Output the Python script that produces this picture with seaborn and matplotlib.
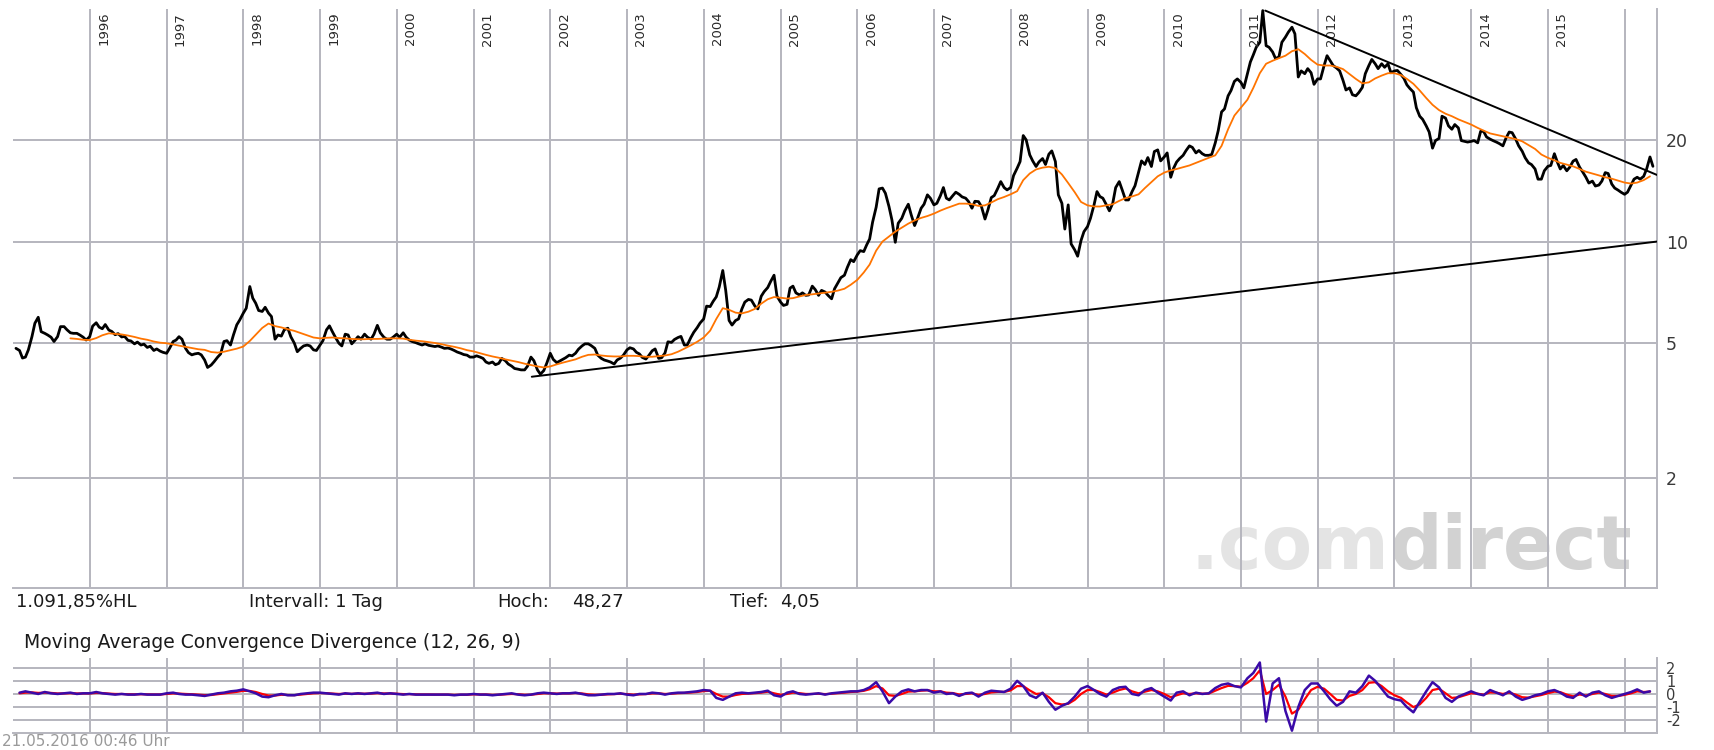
import numpy as np
import pandas as pd
import matplotlib
matplotlib.use('Agg')
import matplotlib.pyplot as plt
import matplotlib.dates as mdates
from matplotlib.ticker import NullLocator
import seaborn as sns

OUTPUT_FILE = 'out.png'

# closing prices, 1st and 15th of each month
p1995 = [4.83, 4.76, 4.52, 4.55, 4.78, 5.23, 5.73, 5.97, 5.41, 5.35, 5.29, 5.21,
         5.06, 5.23, 5.60, 5.60, 5.48, 5.37, 5.35, 5.35, 5.29, 5.21, 5.11]
p1996 = [5.23, 5.62, 5.75, 5.58, 5.52, 5.68, 5.47, 5.42, 5.30, 5.34, 5.22, 5.24,
         5.10, 5.08, 4.98, 5.04, 4.94, 4.97, 4.86, 4.90, 4.76, 4.81, 4.74, 4.70]
p1997 = [4.67, 4.83, 5.06, 5.11, 5.23, 5.14, 4.83, 4.69, 4.62, 4.65, 4.67, 4.62,
         4.46, 4.24, 4.31, 4.41, 4.55, 4.65, 5.06, 5.09, 4.94, 5.29, 5.67, 5.86]
p1998 = [6.14, 6.35, 7.36, 6.80, 6.57, 6.25, 6.21, 6.39, 6.14, 6.00, 5.14, 5.29,
         5.25, 5.48, 5.54, 5.23, 5.00, 4.72, 4.83, 4.91, 4.94, 4.91, 4.78, 4.76]
p1999 = [4.94, 5.09, 5.48, 5.63, 5.41, 5.21, 5.00, 4.91, 5.32, 5.29, 4.98, 5.09,
         5.23, 5.14, 5.32, 5.21, 5.14, 5.32, 5.65, 5.37, 5.21, 5.14, 5.14, 5.21]
p2000 = [5.32, 5.21, 5.37, 5.21, 5.11, 5.06, 5.02, 4.98, 4.94, 4.98, 4.93, 4.91,
         4.89, 4.91, 4.87, 4.83, 4.84, 4.81, 4.76, 4.71, 4.67, 4.63, 4.61, 4.55]
p2001 = [4.55, 4.59, 4.55, 4.51, 4.40, 4.36, 4.40, 4.32, 4.36, 4.51, 4.44, 4.34,
         4.28, 4.21, 4.19, 4.17, 4.17, 4.28, 4.55, 4.44, 4.17, 4.05, 4.15, 4.36]
p2002 = [4.67, 4.48, 4.38, 4.43, 4.48, 4.53, 4.61, 4.59, 4.67, 4.80, 4.91, 4.98,
         4.98, 4.92, 4.83, 4.61, 4.51, 4.46, 4.43, 4.40, 4.34, 4.46, 4.52, 4.61]
p2003 = [4.78, 4.85, 4.81, 4.70, 4.65, 4.54, 4.49, 4.60, 4.75, 4.81, 4.51, 4.53,
         4.68, 5.05, 5.03, 5.13, 5.20, 5.24, 4.94, 4.94, 5.20, 5.39, 5.56, 5.74]
p2004 = [5.90, 6.44, 6.42, 6.65, 6.86, 7.33, 8.21, 7.17, 5.84, 5.66, 5.84, 5.90,
         6.32, 6.62, 6.74, 6.71, 6.44, 6.32, 6.89, 7.11, 7.31, 7.62, 7.95, 6.89]
p2005 = [6.62, 6.47, 6.52, 7.28, 7.38, 7.05, 6.95, 7.05, 6.93, 6.95, 7.38, 7.21,
         6.93, 7.17, 7.09, 6.93, 6.77, 7.25, 7.55, 7.82, 7.95, 8.39, 8.84, 8.72]
p2006 = [9.13, 9.40, 9.34, 9.78, 10.18, 11.41, 12.64, 14.32, 14.40, 13.90, 12.70, 11.59,
         9.95, 11.33, 11.72, 12.33, 12.90, 11.99, 11.15, 11.72, 12.55, 12.90, 13.75, 13.44]
p2007 = [12.84, 12.98, 13.68, 14.45, 13.44, 13.28, 13.68, 14.00, 13.80, 13.56, 13.44, 13.13,
         12.55, 13.16, 13.13, 12.70, 11.66, 12.41, 13.50, 13.68, 14.38, 15.05, 14.45, 14.22]
p2008 = [14.45, 15.68, 16.49, 17.25, 20.60, 20.00, 18.06, 17.33, 16.68, 17.21, 17.61, 16.91,
         18.14, 18.55, 17.25, 13.75, 12.98, 10.89, 12.84, 9.84, 9.45, 9.05, 10.07, 10.70]
p2009 = [11.08, 11.72, 12.84, 14.06, 13.59, 13.44, 12.84, 12.33, 12.98, 14.45, 15.05, 14.22,
         13.28, 13.28, 14.06, 14.63, 16.08, 17.33, 16.91, 17.73, 16.68, 18.47, 18.68, 17.33]
p2010 = [17.8, 18.3, 15.5, 16.5, 17.2, 17.6, 18.0, 18.6, 19.2, 19.0, 18.3, 18.6,
         18.2, 18.0, 18.0, 18.1, 19.6, 21.3, 24.2, 24.7, 27.0, 28.0, 29.8, 30.3]
p2011 = [29.6, 28.5, 31.4, 34.0, 35.7, 37.6, 38.9, 48.27, 38.0, 37.6, 36.4, 34.8,
         35.2, 38.9, 40.3, 41.7, 43.1, 41.2, 30.7, 32.0, 31.4, 32.5, 31.6, 29.2]
p2012 = [30.3, 30.3, 33.2, 35.5, 34.3, 33.2, 32.6, 32.0, 30.0, 28.1, 28.5, 27.2,
         27.0, 27.6, 28.6, 31.4, 33.2, 34.6, 33.6, 32.5, 33.6, 32.8, 33.6, 31.6]
p2013 = [32.0, 32.1, 31.2, 30.4, 29.1, 28.4, 27.7, 24.9, 23.5, 23.0, 22.0, 21.1,
         18.9, 19.9, 20.2, 23.5, 23.2, 22.0, 21.5, 22.2, 21.7, 19.9, 19.8, 19.7]
p2014 = [19.8, 19.9, 19.6, 21.2, 21.2, 20.4, 20.1, 19.9, 19.7, 19.5, 19.2, 20.2,
         21.1, 21.0, 20.1, 19.2, 18.5, 17.7, 17.1, 16.9, 16.4, 15.3, 15.3, 16.2]
p2015 = [16.7, 16.8, 18.2, 17.2, 16.4, 16.8, 16.2, 16.6, 17.3, 17.5, 16.6, 16.1,
         15.5, 14.9, 15.1, 14.6, 14.7, 15.1, 16.0, 15.9, 14.8, 14.4, 14.2, 14.0]
p2016 = [13.8, 14.0, 14.7, 15.3, 15.5, 15.3, 15.6, 16.4, 17.8, 16.7]

# orange moving average, monthly from Oct 1995
ma1995 = [5.17, 5.15, 5.12]
ma1996 = [5.11, 5.18, 5.28, 5.35, 5.33, 5.31, 5.27, 5.22, 5.16, 5.12, 5.06, 5.02]
ma1997 = [5.00, 4.96, 4.92, 4.88, 4.84, 4.80, 4.78, 4.71, 4.69, 4.72, 4.77, 4.82]
ma1998 = [4.89, 5.08, 5.30, 5.55, 5.72, 5.62, 5.57, 5.50, 5.44, 5.36, 5.28, 5.20]
ma1999 = [5.17, 5.19, 5.20, 5.18, 5.17, 5.15, 5.14, 5.14, 5.15, 5.15, 5.16, 5.17]
ma2000 = [5.17, 5.16, 5.12, 5.09, 5.07, 5.04, 5.01, 4.97, 4.92, 4.88, 4.83, 4.77]
ma2001 = [4.73, 4.67, 4.62, 4.57, 4.53, 4.48, 4.44, 4.40, 4.35, 4.31, 4.27, 4.24]
ma2002 = [4.27, 4.33, 4.38, 4.43, 4.48, 4.56, 4.62, 4.63, 4.60, 4.58, 4.57, 4.57]
ma2003 = [4.59, 4.59, 4.58, 4.56, 4.56, 4.58, 4.60, 4.64, 4.72, 4.82, 4.93, 5.05]
ma2004 = [5.20, 5.45, 5.90, 6.35, 6.28, 6.16, 6.13, 6.20, 6.32, 6.55, 6.75, 6.85]
ma2005 = [6.82, 6.78, 6.80, 6.88, 6.95, 6.98, 7.02, 7.06, 7.10, 7.16, 7.25, 7.45]
ma2006 = [7.70, 8.10, 8.55, 9.40, 10.00, 10.35, 10.70, 11.00, 11.30, 11.55, 11.75, 11.90]
ma2007 = [12.10, 12.35, 12.55, 12.75, 12.95, 12.95, 12.90, 12.75, 12.80, 13.05, 13.35, 13.55]
ma2008 = [13.80, 14.10, 15.20, 15.90, 16.35, 16.55, 16.65, 16.50, 15.80, 14.90, 14.00, 13.10]
ma2009 = [12.80, 12.70, 12.70, 12.80, 12.90, 13.20, 13.45, 13.60, 13.80, 14.40, 15.00, 15.60]
ma2010 = [16.00, 16.25, 16.40, 16.60, 16.80, 17.10, 17.40, 17.70, 18.00, 19.20, 21.50, 23.60]
ma2011 = [24.90, 26.30, 28.50, 31.50, 33.60, 34.30, 34.90, 35.50, 36.60, 37.10, 35.90, 34.50]
ma2012 = [33.40, 33.20, 33.20, 32.90, 32.40, 31.30, 30.30, 29.40, 29.60, 30.40, 31.00, 31.50]
ma2013 = [31.50, 31.10, 30.30, 29.30, 28.00, 26.60, 25.40, 24.50, 23.90, 23.50, 23.00, 22.60]
ma2014 = [22.20, 21.70, 21.30, 20.90, 20.70, 20.50, 20.30, 20.10, 19.80, 19.30, 18.80, 18.10]
ma2015 = [17.70, 17.40, 17.10, 16.90, 16.70, 16.40, 16.10, 15.90, 15.70, 15.50, 15.35, 15.15]
ma2016 = [14.95, 14.85, 14.95, 15.20, 15.60]

# MACD (12, 26, 9), monthly from Feb 1995
macd1995 = [0.1, 0.2, 0.1, 0.0, 0.15, 0.05, 0.0, 0.05, 0.1, 0.0, 0.05]
macd1996 = [0.05, 0.15, 0.05, 0.0, -0.05, 0.0, -0.05, -0.05, 0.0, -0.05, -0.05, -0.05]
macd1997 = [0.05, 0.1, 0.0, -0.05, -0.05, -0.1, -0.15, -0.05, 0.05, 0.1, 0.2, 0.25]
macd1998 = [0.35, 0.2, 0.05, -0.2, -0.25, -0.1, 0.0, -0.1, -0.1, 0.0, 0.05, 0.1]
macd1999 = [0.1, 0.05, 0.0, -0.05, 0.05, 0.0, 0.05, 0.0, 0.05, 0.1, 0.0, 0.05]
macd2000 = [0.0, -0.05, 0.0, -0.05, -0.05, -0.05, -0.05, -0.05, -0.05, -0.1, -0.05, -0.05]
macd2001 = [0.0, -0.05, -0.05, -0.1, -0.05, 0.0, 0.05, -0.05, -0.1, -0.05, 0.05, 0.1]
macd2002 = [0.05, 0.0, 0.05, 0.05, 0.1, 0.0, -0.1, -0.1, -0.05, 0.0, 0.0, 0.05]
macd2003 = [-0.05, -0.1, 0.0, 0.0, 0.1, 0.05, -0.05, 0.05, 0.1, 0.1, 0.15, 0.2]
macd2004 = [0.3, 0.25, -0.3, -0.45, -0.2, 0.05, 0.1, 0.05, 0.1, 0.15, 0.25, -0.1]
macd2005 = [-0.2, 0.1, 0.2, 0.0, -0.05, 0.0, 0.05, -0.05, 0.05, 0.1, 0.15, 0.2]
macd2006 = [0.2, 0.3, 0.5, 0.9, 0.2, -0.7, -0.2, 0.2, 0.35, 0.2, 0.3, 0.3]
macd2007 = [0.1, 0.2, 0.0, 0.05, -0.15, 0.05, 0.1, -0.2, 0.1, 0.25, 0.2, 0.15]
macd2008 = [0.4, 1.0, 0.6, -0.1, -0.3, 0.1, -0.6, -1.2, -0.9, -0.7, -0.2, 0.4]
macd2009 = [0.6, 0.3, 0.0, -0.2, 0.3, 0.5, 0.55, 0.0, -0.1, 0.3, 0.45, 0.1]
macd2010 = [-0.2, -0.5, 0.1, 0.2, -0.1, 0.1, 0.0, 0.05, 0.45, 0.7, 0.8, 0.6]
macd2011 = [0.5, 1.2, 1.6, 2.4, -2.1, 0.8, 1.2, -1.3, -2.8, -1.0, 0.3, 0.8]
macd2012 = [0.8, 0.2, -0.4, -0.9, -0.6, 0.2, 0.1, 0.6, 1.4, 1.0, 0.4, -0.2]
macd2013 = [-0.4, -0.5, -1.0, -1.4, -0.6, 0.2, 0.9, 0.5, -0.3, -0.6, -0.2, 0.0]
macd2014 = [0.2, 0.0, -0.1, 0.3, 0.1, -0.1, 0.2, -0.2, -0.45, -0.3, -0.1, 0.0]
macd2015 = [0.2, 0.3, 0.1, -0.2, -0.3, 0.1, -0.2, 0.1, 0.2, -0.1, -0.3, -0.15]
macd2016 = [0.0, 0.15, 0.35, 0.1, 0.2]

signal1995 = [0.05, 0.1, 0.12, 0.08, 0.1, 0.08, 0.04, 0.04, 0.06, 0.04, 0.04]
signal1996 = [0.04, 0.08, 0.07, 0.03, 0.0, 0.0, -0.02, -0.03, -0.02, -0.03, -0.04, -0.04]
signal1997 = [0.0, 0.04, 0.03, 0.0, -0.02, -0.05, -0.09, -0.08, -0.02, 0.03, 0.1, 0.16]
signal1998 = [0.24, 0.23, 0.15, 0.0, -0.12, -0.12, -0.06, -0.08, -0.09, -0.05, 0.0, 0.05]
signal1999 = [0.07, 0.06, 0.03, 0.0, 0.02, 0.01, 0.03, 0.02, 0.03, 0.06, 0.04, 0.04]
signal2000 = [0.02, -0.01, -0.01, -0.03, -0.04, -0.04, -0.05, -0.05, -0.05, -0.07, -0.06, -0.06]
signal2001 = [-0.03, -0.04, -0.04, -0.07, -0.06, -0.03, 0.0, -0.02, -0.06, -0.06, 0.0, 0.05]
signal2002 = [0.05, 0.03, 0.04, 0.04, 0.07, 0.04, -0.03, -0.06, -0.06, -0.03, -0.01, 0.02]
signal2003 = [-0.01, -0.05, -0.03, -0.01, 0.04, 0.05, 0.0, 0.02, 0.06, 0.08, 0.11, 0.15]
signal2004 = [0.22, 0.24, 0.0, -0.2, -0.2, -0.08, 0.0, 0.03, 0.06, 0.1, 0.17, 0.05]
signal2005 = [-0.06, 0.0, 0.1, 0.06, 0.0, 0.0, 0.02, -0.01, 0.02, 0.06, 0.1, 0.15]
signal2006 = [0.18, 0.24, 0.36, 0.6, 0.42, -0.1, -0.15, 0.0, 0.18, 0.2, 0.25, 0.28]
signal2007 = [0.2, 0.2, 0.1, 0.07, -0.04, 0.0, 0.05, -0.07, 0.0, 0.12, 0.16, 0.16]
signal2008 = [0.27, 0.6, 0.6, 0.27, 0.0, 0.05, -0.25, -0.7, -0.8, -0.75, -0.45, 0.0]
signal2009 = [0.3, 0.3, 0.15, -0.05, 0.1, 0.3, 0.42, 0.2, 0.05, 0.17, 0.3, 0.2]
signal2010 = [0.0, -0.25, -0.1, 0.05, 0.0, 0.05, 0.02, 0.03, 0.25, 0.45, 0.62, 0.6]
signal2011 = [0.55, 0.85, 1.2, 1.8, 0.0, 0.3, 0.7, -0.2, -1.5, -1.2, -0.4, 0.3]
signal2012 = [0.55, 0.4, 0.0, -0.45, -0.5, -0.15, 0.0, 0.3, 0.85, 0.9, 0.6, 0.2]
signal2013 = [-0.1, -0.3, -0.65, -1.0, -0.8, -0.3, 0.3, 0.4, 0.05, -0.3, -0.25, -0.1]
signal2014 = [0.05, 0.02, -0.05, 0.12, 0.1, 0.0, 0.1, -0.05, -0.25, -0.28, -0.18, -0.08]
signal2015 = [0.06, 0.18, 0.14, -0.05, -0.18, -0.04, -0.12, 0.0, 0.1, 0.0, -0.15, -0.15]
signal2016 = [-0.07, 0.05, 0.2, 0.15, 0.18]

# trend lines (two end points each)
upper_dates = ['2011-04-27', '2016-06-03']
upper_vals = [48.27, 15.75]
lower_dates = ['2001-10-05', '2016-06-03']
lower_vals = [3.98, 10.0]

year_labels = list(range(1996, 2016))
price_ticks = [2, 5, 10, 20]
macd_ticks = [-2, -1, 0, 1, 2]

GRID = '#b6b6be'
X_START = pd.Timestamp('1995-01-01')
X_END = pd.Timestamp('2016-06-03')


def collect(prefix, first, last):
    vals = []
    for y in range(first, last + 1):
        vals += globals()[f'{prefix}{y}']
    return vals


def build_frames():
    price = collect('p', 1995, 2016)
    price_df = pd.DataFrame({
        'date': pd.date_range('1995-01-15', periods=len(price), freq='SMS'),
        'close': price})
    ma = collect('ma', 1995, 2016)
    ma_df = pd.DataFrame({
        'date': pd.date_range('1995-10-01', periods=len(ma), freq='MS'),
        'ma': ma})
    macd = collect('macd', 1995, 2016)
    signal = collect('signal', 1995, 2016)
    macd_df = pd.DataFrame({
        'date': pd.date_range('1995-02-01', periods=len(macd), freq='MS'),
        'macd': macd, 'signal': signal})
    return price_df, ma_df, macd_df


def style_axis(ax, yticks, labels, fontsize):
    ax.set_xlim(X_START, X_END)
    ax.set_xticks([pd.Timestamp(f'{y}-01-01') for y in range(1996, 2017)])
    ax.set_yticks(yticks)
    ax.set_yticklabels(labels)
    ax.yaxis.set_minor_locator(NullLocator())
    ax.yaxis.tick_right()
    ax.tick_params(axis='x', length=0, labelbottom=False)
    ax.tick_params(axis='y', length=0, pad=6.5, labelsize=fontsize, labelcolor='#3a3a3a')
    ax.grid(True, color=GRID, lw=1.4)
    ax.set_axisbelow(True)
    for side in ['top', 'left']:
        ax.spines[side].set_visible(False)
    for side in ['right', 'bottom']:
        ax.spines[side].set_color(GRID)
        ax.spines[side].set_linewidth(1.4)
    ax.set_xlabel('')
    ax.set_ylabel('')


def main():
    sns.set_theme(style='white')
    plt.rcParams['font.family'] = ['DejaVu Sans']

    price_df, ma_df, macd_df = build_frames()

    fig = plt.figure(figsize=(17.14, 7.5), dpi=100)
    ax = fig.add_axes([0.0076, 0.216, 0.9591, 0.772])
    mx = fig.add_axes([0.0076, 0.0231, 0.9591, 0.0992])

    # main price panel
    ax.set_yscale('log')
    sns.lineplot(data=ma_df, x='date', y='ma', ax=ax, color='#ff7400', lw=1.3, estimator=None, zorder=3)
    sns.lineplot(data=price_df, x='date', y='close', ax=ax, color='black', lw=2.0, estimator=None, zorder=2)
    sns.lineplot(x=pd.to_datetime(upper_dates), y=upper_vals, ax=ax, color='black', lw=1.4, zorder=4)
    sns.lineplot(x=pd.to_datetime(lower_dates), y=lower_vals, ax=ax, color='black', lw=1.4, zorder=4)
    ax.set_ylim(0.943, 48.8)
    style_axis(ax, price_ticks, [str(t) for t in price_ticks], 12.5)

    for y in year_labels:
        ax.annotate(str(y), xy=(mdates.date2num(pd.Timestamp(f'{y}-01-01')), 1),
                    xycoords=('data', 'axes fraction'), xytext=(10, -2),
                    textcoords='offset points', rotation=90, ha='center', va='top',
                    fontsize=9.5, color='#2a2a2a')

    # watermark
    t1 = ax.text(0.7165, 0.033, '.com', transform=ax.transAxes, fontsize=53,
                 fontweight='bold', color='#e4e4e4', ha='left', va='baseline', zorder=0)
    ax.annotate('direct', xy=(1, 0), xycoords=t1, ha='left', va='bottom', fontsize=53,
                fontweight='bold', color='#d2d2d2', zorder=0, annotation_clip=False)

    # MACD panel
    sns.lineplot(data=macd_df, x='date', y='signal', ax=mx, color='#ff0000', lw=1.6, estimator=None)
    sns.lineplot(data=macd_df, x='date', y='macd', ax=mx, color='#3a0aa8', lw=1.8, estimator=None)
    mx.set_ylim(-2.95, 2.72)
    style_axis(mx, macd_ticks, [str(t) for t in macd_ticks], 10.5)

    # info texts
    info_y = 1 - 602 / 750
    info = dict(fontsize=13, va='center', color='#1a1a1a')
    fig.text(16 / 1714, info_y, '1.091,85%HL', **info)
    fig.text(249 / 1714, info_y, 'Intervall: 1 Tag', **info)
    fig.text(497 / 1714, info_y, 'Hoch:', **info)
    fig.text(572 / 1714, info_y, '48,27', **info)
    fig.text(730 / 1714, info_y, 'Tief:', **info)
    fig.text(780 / 1714, info_y, '4,05', **info)
    fig.text(24 / 1714, 1 - 642 / 750, 'Moving Average Convergence Divergence (12, 26, 9)',
             fontsize=13.5, va='center', color='#1a1a1a')
    fig.text(2 / 1714, 1 - 741 / 750, '21.05.2016 00:46 Uhr', fontsize=11,
             va='center', color='#9a9a9a')

    fig.savefig(OUTPUT_FILE, dpi=100)
    plt.close(fig)


if __name__ == '__main__':
    main()
